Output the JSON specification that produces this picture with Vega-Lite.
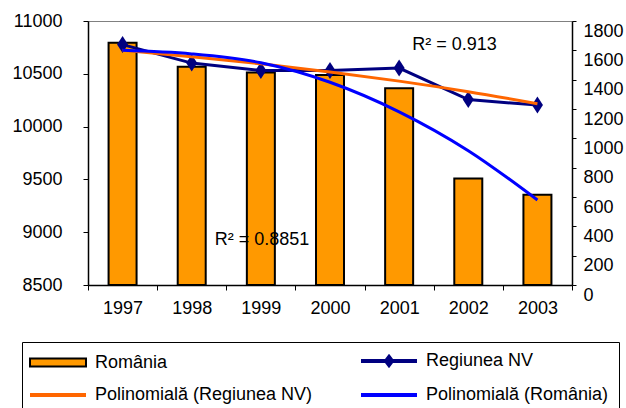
{
  "$schema": "https://vega.github.io/schema/vega-lite/v6.json",
  "width": 484,
  "height": 264,
  "autosize": "none",
  "padding": {"left": 88, "top": 21, "right": 54, "bottom": 123},
  "config": {
    "font": "Liberation Sans",
    "view": {"stroke": "#808080", "strokeWidth": 1},
    "axis": {
      "labelFont": "Liberation Sans",
      "labelFontSize": 18,
      "labelColor": "#000000",
      "domainColor": "#000000",
      "domainWidth": 1.5,
      "tickColor": "#000000",
      "tickWidth": 1,
      "grid": false,
      "title": null
    },
    "legend": {
      "title": null,
      "orient": "none",
      "legendX": -66,
      "legendY": 321,
      "direction": "horizontal",
      "columns": 2,
      "columnPadding": 40,
      "rowPadding": 13,
      "padding": 10,
      "strokeColor": "#000000",
      "fillColor": "#FFFFFF",
      "symbolSize": 100,
      "symbolOffset": -6,
      "symbolOpacity": 1,
      "labelOffset": 51,
      "labelFont": "Liberation Sans",
      "labelFontSize": 18,
      "labelFontWeight": "normal",
      "labelColor": "#000000",
      "labelLimit": 400
    }
  },
  "data": {
    "values": [
      {"year": "1997", "romania": 10795, "nv": 1639, "trend_nv": 1600, "trend_ro": 10722},
      {"year": "1998", "romania": 10567, "nv": 1513, "trend_nv": 1556, "trend_ro": 10688},
      {"year": "1999", "romania": 10512, "nv": 1462, "trend_nv": 1508, "trend_ro": 10605},
      {"year": "2000", "romania": 10489, "nv": 1462, "trend_nv": 1453, "trend_ro": 10420},
      {"year": "2001", "romania": 10363, "nv": 1479, "trend_nv": 1390, "trend_ro": 10140},
      {"year": "2002", "romania": 9508, "nv": 1264, "trend_nv": 1318, "trend_ro": 9772},
      {"year": "2003", "romania": 9355, "nv": 1227, "trend_nv": 1236, "trend_ro": 9305}
    ]
  },
  "encoding": {
    "x": {
      "field": "year",
      "type": "ordinal",
      "scale": {"paddingInner": 0, "paddingOuter": 0},
      "axis": {"labelAngle": 0, "tickBand": "extent", "tickSize": 5, "labelPadding": 9}
    }
  },
  "layer": [
    {
      "mark": {"type": "bar", "size": 28},
      "encoding": {
        "y": {
          "field": "romania",
          "type": "quantitative",
          "scale": {"domain": [8500, 11000], "zero": false, "nice": false},
          "axis": {"orient": "left", "values": [8500, 9000, 9500, 10000, 10500, 11000], "format": "d", "tickSize": 5, "labelPadding": 21}
        },
        "y2": {"datum": 8500},
        "fill": {
          "datum": "România",
          "type": "nominal",
          "scale": {
            "domain": ["România", "Regiunea NV", "Polinomială (Regiunea NV)", "Polinomială (România)"],
            "range": ["#FF9900", "#000080", "transparent", "transparent"]
          }
        },
        "stroke": {
          "datum": "România",
          "type": "nominal",
          "scale": {
            "domain": ["România", "Regiunea NV", "Polinomială (Regiunea NV)", "Polinomială (România)"],
            "range": ["#000000", "#000080", "#FF6600", "#0000FF"]
          }
        },
        "strokeWidth": {
          "datum": "România",
          "type": "nominal",
          "scale": {
            "type": "ordinal",
            "domain": ["România", "Regiunea NV", "Polinomială (Regiunea NV)", "Polinomială (România)"],
            "range": [2, 4, 4, 4]
          }
        }
      }
    },
    {
      "mark": {"type": "line", "strokeWidth": 3},
      "encoding": {
        "y": {
          "field": "nv",
          "type": "quantitative",
          "scale": {"domain": [0, 1800], "nice": false},
          "axis": {"orient": "right", "values": [0, 200, 400, 600, 800, 1000, 1200, 1400, 1600, 1800], "format": "d", "tickSize": 4, "labelPadding": 7, "labelOffset": 10}
        },
        "stroke": {"datum": "Regiunea NV", "type": "nominal"}
      }
    },
    {
      "mark": {"type": "point", "filled": true, "opacity": 1, "size": 289, "shape": "M0,-1L0.65,0L0,1L-0.65,0Z", "strokeWidth": 0},
      "encoding": {
        "y": {"field": "nv", "type": "quantitative", "scale": {"domain": [0, 1800], "nice": false}, "axis": null},
        "fill": {"datum": "Regiunea NV", "type": "nominal"}
      }
    },
    {
      "mark": {"type": "line", "strokeWidth": 3, "interpolate": "monotone"},
      "encoding": {
        "y": {"field": "trend_nv", "type": "quantitative", "scale": {"domain": [0, 1800], "nice": false}, "axis": null},
        "stroke": {"datum": "Polinomială (Regiunea NV)", "type": "nominal"}
      }
    },
    {
      "mark": {"type": "line", "strokeWidth": 3, "interpolate": "monotone"},
      "encoding": {
        "y": {"field": "trend_ro", "type": "quantitative", "scale": {"domain": [8500, 11000], "zero": false, "nice": false}, "axis": null},
        "stroke": {"datum": "Polinomială (România)", "type": "nominal"}
      }
    },
    {
      "mark": {"type": "point", "opacity": 0, "size": 4},
      "encoding": {
        "y": {"field": "trend_ro", "type": "quantitative", "scale": {"domain": [8500, 11000], "zero": false, "nice": false}, "axis": null},
        "shape": {
          "datum": "Polinomială (România)",
          "type": "nominal",
          "scale": {
            "domain": ["România", "Regiunea NV", "Polinomială (Regiunea NV)", "Polinomială (România)"],
            "range": [
              "M-1,-0.8H10.2V0.8H-1Z",
              "M-1,0H10.2M4.6,-0.8L5.2,0L4.6,0.8L4,0Z",
              "M-1,0H10.2",
              "M-1,0H10.2"
            ]
          }
        }
      }
    },
    {
      "data": {"values": [{"year": "2001", "v": 10773, "label": "R² = 0.913"}]},
      "mark": {"type": "text", "align": "left", "baseline": "middle", "dx": 13, "fontSize": 18, "font": "Liberation Sans", "color": "#000000"},
      "encoding": {
        "y": {"field": "v", "type": "quantitative", "scale": {"domain": [8500, 11000], "zero": false, "nice": false}, "axis": null},
        "text": {"field": "label"}
      }
    },
    {
      "data": {"values": [{"year": "1998", "v": 8926, "label": "R² = 0.8851"}]},
      "mark": {"type": "text", "align": "left", "baseline": "middle", "dx": 23, "fontSize": 18, "font": "Liberation Sans", "color": "#000000"},
      "encoding": {
        "y": {"field": "v", "type": "quantitative", "scale": {"domain": [8500, 11000], "zero": false, "nice": false}, "axis": null},
        "text": {"field": "label"}
      }
    }
  ],
  "resolve": {"scale": {"y": "independent"}}
}
